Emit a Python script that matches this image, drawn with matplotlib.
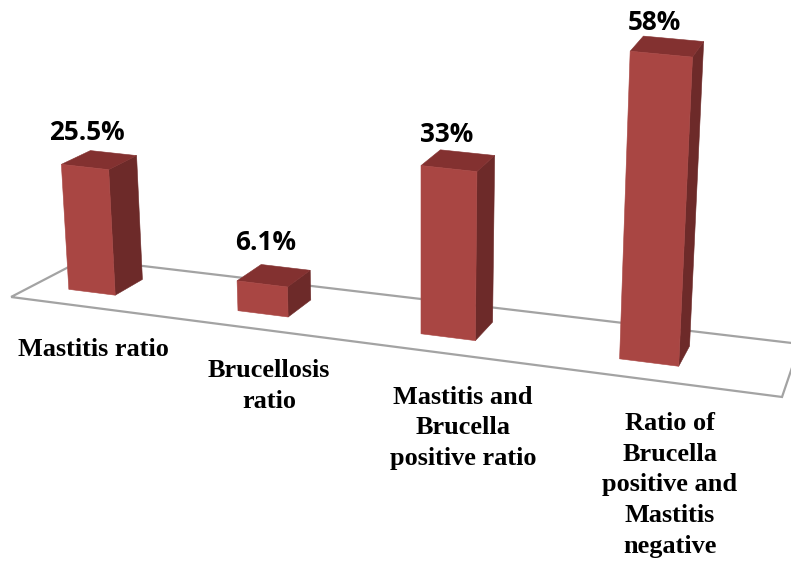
import numpy as np
import matplotlib
matplotlib.use("Agg")
import matplotlib.pyplot as plt
from matplotlib.patches import Polygon

categories = ["Mastitis ratio", "Brucellosis\nratio", "Mastitis and\nBrucella\npositive ratio",
              "Ratio of\nBrucella\npositive and\nMastitis\nnegative"]
values = [25.5, 6.1, 33.0, 58.0]
value_labels = ["25.5%", "6.1%", "33%", "58%"]

# label placement (pixels)
value_label_xy = [(87, 133), (266, 242), (447, 135), (654, 23)]
cat_label_xy = [(93, 349), (269, 386), (463, 428), (670, 485)]

# camera of the 3-D scene: floor homography + vertical vanishing point
G, H = -0.1536, 0.0807
A = np.array([650.9, 39.0])
B = np.array([79.8, -17.1])
C = np.array([11.0, 297.0])
VP = np.array([420.0, 6160.0])
K = 0.000824


def project(u, d, val=0.0):
    w = 1 + G * u + H * d
    p = A * u + B * d + C
    t = -K * val * w ** 0.5
    return (p + t * VP) / (w + t)


BAR_W = 0.0705
D0, D1 = 0.30, 0.70
centers = [0.089 + 0.25 * i for i in range(len(values))]

FRONT = "#A94643"
TOP = "#833130"
SIDE = "#6D2A29"
FLOOR = "#A3A3A3"

fig = plt.figure(figsize=(7.91, 5.62), dpi=100)
ax = fig.add_axes([0, 0, 1, 1])
ax.set_xlim(0, 791)
ax.set_ylim(562, 0)
ax.axis("off")

ax.add_patch(Polygon([project(0, 0), project(1, 0), project(1, 1), project(0, 1)],
                     closed=True, fill=False, edgecolor=FLOOR, lw=1.6, zorder=1))

for c, v in zip(centers, values):
    l, r = c - BAR_W / 2, c + BAR_W / 2
    side = [project(r, D0), project(r, D1), project(r, D1, v), project(r, D0, v)]
    top = [project(l, D0, v), project(r, D0, v), project(r, D1, v), project(l, D1, v)]
    front = [project(l, D0), project(r, D0), project(r, D0, v), project(l, D0, v)]
    ax.add_patch(Polygon(side, closed=True, facecolor=SIDE, edgecolor=SIDE, lw=0.4, zorder=2))
    ax.add_patch(Polygon(top, closed=True, facecolor=TOP, edgecolor=TOP, lw=0.4, zorder=2))
    ax.add_patch(Polygon(front, closed=True, facecolor=FRONT, edgecolor=FRONT, lw=0.4, zorder=3))

for (x, y), s in zip(value_label_xy, value_labels):
    ax.text(x, y, s, ha="center", va="center", fontsize=18.8, fontweight="bold",
            family="Open Sans", color="black")

for (x, y), s in zip(cat_label_xy, categories):
    ax.text(x, y, s, ha="center", va="center", fontsize=18.9, fontweight="bold",
            family="Liberation Serif", color="black", linespacing=1.43, multialignment="center")

fig.savefig("out.png", dpi=100)
